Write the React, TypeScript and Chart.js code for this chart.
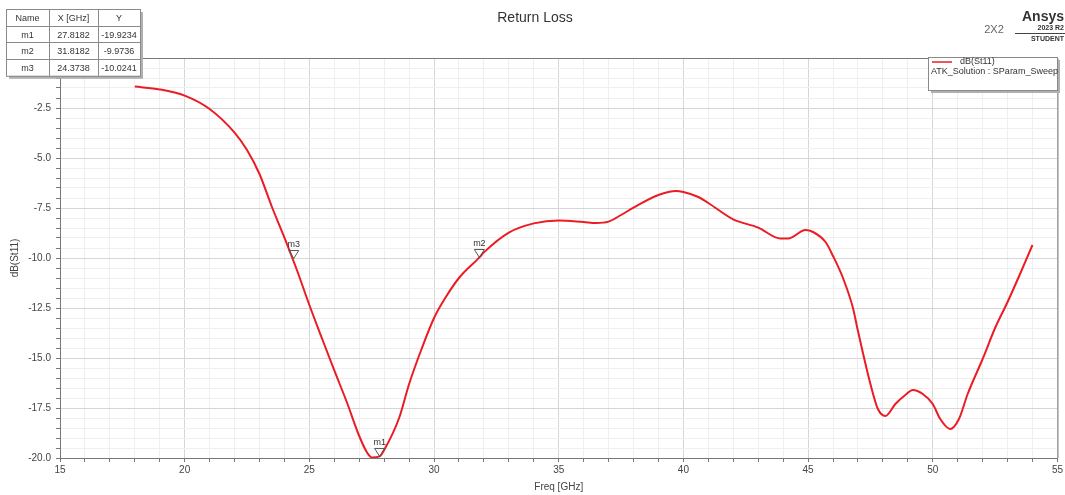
import React, { useEffect, useRef } from 'react';
import { Chart, registerables } from 'chart.js';

Chart.register(...registerables);

const FREQ_GHZ = [18, 19, 20, 21, 22, 22.5, 23, 23.5, 24, 24.5, 25, 25.5, 26, 26.5, 27, 27.3, 27.5, 27.82, 28, 28.6, 29, 29.5, 30, 30.5, 31, 31.82, 32, 33, 34, 35, 36, 36.5, 37, 37.5, 38, 39, 39.7, 40, 40.6, 41, 42, 43, 43.9, 44.2, 44.9, 45.2, 45.7, 46, 46.4, 46.8, 47, 47.5, 47.8, 48.1, 48.5, 48.9, 49.2, 49.6, 50, 50.3, 50.7, 51.05, 51.4, 52, 52.5, 53, 53.5, 54];
const DB_ST11 = [-1.43, -1.57, -1.88, -2.55, -3.73, -4.6, -5.8, -7.45, -8.98, -10.6, -12.35, -14.0, -15.62, -17.2, -18.9, -19.7, -19.97, -19.92, -19.6, -18.0, -16.3, -14.55, -13.0, -11.9, -11.0, -9.97, -9.72, -8.73, -8.27, -8.12, -8.2, -8.25, -8.18, -7.85, -7.48, -6.85, -6.65, -6.7, -6.95, -7.25, -8.07, -8.48, -9.03, -9.03, -8.6, -8.7, -9.2, -9.9, -11.0, -12.5, -13.65, -16.3, -17.55, -17.9, -17.3, -16.85, -16.6, -16.8, -17.3, -18.05, -18.55, -18.05, -16.8, -15.05, -13.5, -12.2, -10.8, -9.35];

const MARKER_NAMES = ['m1', 'm2', 'm3'];
const MARKER_FREQ = [27.8182, 31.8182, 24.3738];
const MARKER_DB = [-19.9234, -9.9736, -10.0241];

const X_MAJOR_TICKS = [15, 20, 25, 30, 35, 40, 45, 50, 55];
const Y_MAJOR_TICKS = [-2.5, -5, -7.5, -10, -12.5, -15, -17.5, -20];

const TITLE = 'Return Loss';
const SERIES_NAME = 'dB(St11)';
const SERIES_SOURCE = 'ATK_Solution : SParam_Sweep';
const X_TITLE = 'Freq [GHz]';
const Y_TITLE = 'dB(St11)';
const TABLE_HEADERS = ['Name', 'X [GHz]', 'Y'];

const FONT = '"Liberation Sans", Arial, sans-serif';
const RED = '#ec1c24';

const isMajor = (v: number, list: number[]) => list.some((m) => Math.abs(m - v) < 1e-6);

const overlayPlugin = {
  id: 'overlay',
  afterDraw(chart: any) {
    const { ctx, chartArea, scales } = chart;
    const xs = scales.x;
    const ys = scales.y;
    ctx.save();

    // plot frame top / right
    ctx.strokeStyle = '#7a7a7a';
    ctx.lineWidth = 1;
    ctx.beginPath();
    ctx.moveTo(chartArea.left, chartArea.top + 0.5);
    ctx.lineTo(chartArea.right + 0.5, chartArea.top + 0.5);
    ctx.lineTo(chartArea.right + 0.5, chartArea.bottom);
    ctx.stroke();

    // title
    ctx.fillStyle = '#333';
    ctx.font = `14px ${FONT}`;
    ctx.textAlign = 'center';
    ctx.textBaseline = 'middle';
    ctx.fillText(TITLE, 535, 18);

    // logo area
    ctx.fillStyle = '#666';
    ctx.font = `11px ${FONT}`;
    ctx.fillText('2X2', 994, 30);
    ctx.fillStyle = '#333';
    ctx.font = `bold 14px ${FONT}`;
    ctx.textAlign = 'right';
    ctx.fillText('Ansys', 1064, 17);
    ctx.font = `bold 7px ${FONT}`;
    ctx.fillText('2023 R2', 1064, 28);
    ctx.fillText('STUDENT', 1064, 39);
    ctx.strokeStyle = '#444';
    ctx.beginPath();
    ctx.moveTo(1015, 33.5);
    ctx.lineTo(1065, 33.5);
    ctx.stroke();

    // markers
    ctx.textAlign = 'center';
    for (let i = 0; i < MARKER_NAMES.length; i++) {
      const px = xs.getPixelForValue(MARKER_FREQ[i]);
      const py = ys.getPixelForValue(MARKER_DB[i]);
      ctx.strokeStyle = '#555';
      ctx.lineWidth = 1;
      ctx.beginPath();
      ctx.moveTo(px, py);
      ctx.lineTo(px - 5, py - 8);
      ctx.lineTo(px + 5, py - 8);
      ctx.closePath();
      ctx.stroke();
      ctx.fillStyle = '#333';
      ctx.font = `9px ${FONT}`;
      ctx.fillText(MARKER_NAMES[i], px, py - 14);
    }

    // marker table
    const tx = 6;
    const ty = 9;
    const colW = [43, 49, 42];
    const rowH = 16.7;
    const tw = colW[0] + colW[1] + colW[2];
    const th = rowH * 4;
    ctx.fillStyle = '#b0b0b0';
    ctx.fillRect(tx + 3, ty + 3, tw, th);
    ctx.fillStyle = '#fff';
    ctx.fillRect(tx, ty, tw, th);
    ctx.strokeStyle = '#8a8a8a';
    ctx.strokeRect(tx + 0.5, ty + 0.5, tw, th);
    ctx.beginPath();
    for (let r = 1; r < 4; r++) {
      ctx.moveTo(tx, Math.round(ty + r * rowH) + 0.5);
      ctx.lineTo(tx + tw, Math.round(ty + r * rowH) + 0.5);
    }
    ctx.moveTo(tx + colW[0] + 0.5, ty);
    ctx.lineTo(tx + colW[0] + 0.5, ty + th);
    ctx.moveTo(tx + colW[0] + colW[1] + 0.5, ty);
    ctx.lineTo(tx + colW[0] + colW[1] + 0.5, ty + th);
    ctx.stroke();
    ctx.fillStyle = '#333';
    ctx.font = `9px ${FONT}`;
    const centers = [tx + colW[0] / 2, tx + colW[0] + colW[1] / 2, tx + colW[0] + colW[1] + colW[2] / 2];
    TABLE_HEADERS.forEach((h, c) => ctx.fillText(h, centers[c], ty + rowH / 2 + 1));
    for (let i = 0; i < MARKER_NAMES.length; i++) {
      const cy = ty + rowH * (i + 1) + rowH / 2 + 1;
      ctx.fillText(MARKER_NAMES[i], centers[0], cy);
      ctx.fillText(MARKER_FREQ[i].toFixed(4), centers[1], cy);
      ctx.fillText(MARKER_DB[i].toFixed(4), centers[2], cy);
    }

    // legend box
    const lx = 928;
    const ly = 57;
    const lw = 129;
    const lh = 33;
    ctx.fillStyle = '#b0b0b0';
    ctx.fillRect(lx + 3, ly + 3, lw, lh);
    ctx.fillStyle = '#fff';
    ctx.fillRect(lx, ly, lw, lh);
    ctx.strokeStyle = '#8a8a8a';
    ctx.strokeRect(lx + 0.5, ly + 0.5, lw, lh);
    ctx.strokeStyle = RED;
    ctx.lineWidth = 1.5;
    ctx.beginPath();
    ctx.moveTo(932, 62);
    ctx.lineTo(952, 62);
    ctx.stroke();
    ctx.fillStyle = '#333';
    ctx.font = `9px ${FONT}`;
    ctx.textAlign = 'left';
    ctx.fillText(SERIES_NAME, 960, 62);
    ctx.fillText(SERIES_SOURCE, 931, 72);

    ctx.restore();
  },
};

export default function App() {
  const canvasRef = useRef<HTMLCanvasElement | null>(null);

  useEffect(() => {
    const canvas = canvasRef.current;
    if (!canvas) return;
    const data = FREQ_GHZ.map((f, i) => ({ x: f, y: DB_ST11[i] }));
    const chart = new Chart(canvas, {
      type: 'line',
      data: {
        datasets: [
          {
            label: SERIES_NAME,
            data,
            borderColor: RED,
            backgroundColor: RED,
            borderWidth: 2,
            pointRadius: 0,
            cubicInterpolationMode: 'monotone',
            fill: false,
          },
        ],
      },
      options: {
        animation: false,
        responsive: false,
        maintainAspectRatio: false,
        layout: { padding: { top: 58, right: 5, left: 0, bottom: 0 } },
        plugins: {
          legend: { display: false },
          title: { display: false },
          tooltip: { enabled: false },
        },
        scales: {
          x: {
            type: 'linear',
            min: 15,
            max: 55,
            afterFit: (s: any) => {
              s.height = 37;
            },
            ticks: {
              stepSize: 1,
              autoSkip: false,
              maxRotation: 0,
              padding: 2,
              color: '#444',
              font: { family: FONT, size: 10 },
              callback: (v: any) => (isMajor(Number(v), X_MAJOR_TICKS) ? String(v) : ''),
            },
            grid: {
              color: (c: any) => (isMajor(c.tick?.value, X_MAJOR_TICKS) ? '#d6d6d6' : '#efefef'),
              tickColor: '#777',
              tickLength: 4,
              lineWidth: 1,
            },
            border: { display: true, color: '#777', width: 1 },
            title: {
              display: true,
              text: X_TITLE,
              color: '#444',
              font: { family: FONT, size: 10 },
              padding: { top: 0, bottom: 2 },
            },
          },
          y: {
            type: 'linear',
            min: -20,
            max: 0,
            afterFit: (s: any) => {
              s.width = 60;
            },
            ticks: {
              stepSize: 0.5,
              autoSkip: false,
              padding: 5,
              color: '#444',
              font: { family: FONT, size: 10 },
              callback: (v: any) => (isMajor(Number(v), Y_MAJOR_TICKS) ? Number(v).toFixed(1) : ''),
            },
            grid: {
              color: (c: any) => (isMajor(c.tick?.value, Y_MAJOR_TICKS) ? '#d6d6d6' : '#efefef'),
              tickColor: '#777',
              tickLength: 4,
              lineWidth: 1,
            },
            border: { display: true, color: '#777', width: 1 },
            title: {
              display: true,
              text: Y_TITLE,
              color: '#444',
              font: { family: FONT, size: 10 },
              padding: { top: 9, bottom: 0 },
            },
          },
        },
      },
      plugins: [overlayPlugin],
    });
    return () => chart.destroy();
  }, []);

  return (
    <div style={{ position: 'fixed', left: 0, top: 0, width: 1065, height: 495, background: '#fff' }}>
      <canvas ref={canvasRef} width={1065} height={495} style={{ display: 'block', width: 1065, height: 495 }} />
    </div>
  );
}
